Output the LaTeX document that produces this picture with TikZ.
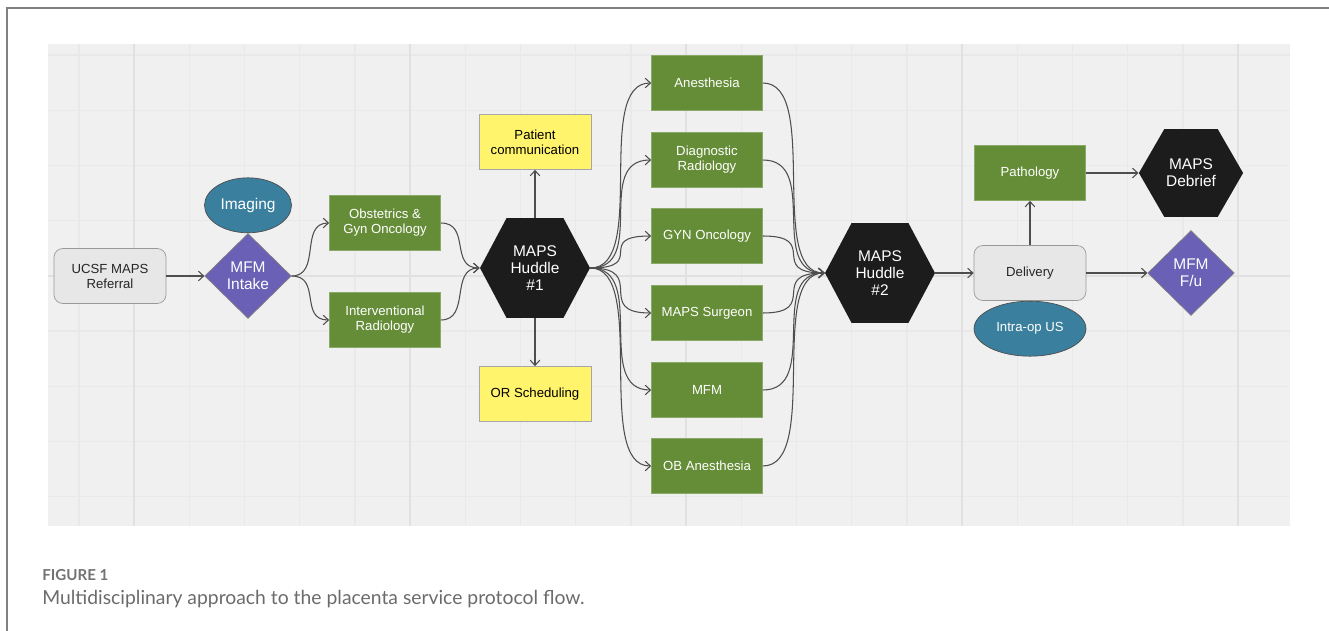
\documentclass[tikz,border=0pt]{standalone}
\usepackage{fontspec}
\setmainfont{Liberation Sans}
\newfontfamily\capfont{Lato}
\usetikzlibrary{positioning, shapes.geometric, shapes.symbols, arrows.meta}

\definecolor{panelgray}{RGB}{240,240,240}
\definecolor{gridgray}{RGB}{233,233,233}
\definecolor{gridmajor}{RGB}{225,225,225}
\definecolor{teamgreen}{RGB}{101,141,55}
\definecolor{intakeviolet}{RGB}{106,96,181}
\definecolor{scanteal}{RGB}{58,128,158}
\definecolor{huddleblack}{RGB}{28,28,28}
\definecolor{noteyellow}{RGB}{255,244,107}
\definecolor{stepgray}{RGB}{231,231,231}
\definecolor{linkgray}{RGB}{78,78,78}

\begin{document}
\begin{tikzpicture}[x=0.02cm, y=-0.02cm,
					every node/.style={font=\fontsize{7.5}{8.5}\selectfont, align=center},
					team/.style={rectangle, fill=teamgreen, draw=teamgreen!75!white, text=white, minimum width=2.22cm, minimum height=1.1cm, inner sep=1pt},
					note/.style={rectangle, fill=noteyellow, draw=gray!70, minimum width=2.24cm, minimum height=1.1cm, inner sep=1pt},
					stepbox/.style={rectangle, rounded corners=5pt, fill=stepgray, draw=gray!80, text=black!85, minimum width=2.24cm, minimum height=1.1cm, inner sep=1pt},
					huddle/.style={signal, signal to=east and west, signal pointer angle=124, fill=huddleblack, text=white, minimum width=2.2cm, minimum height=2cm, inner sep=1pt, font=\fontsize{8.8}{9.6}\selectfont},
					decision/.style={diamond, aspect=1, fill=intakeviolet, draw=gray, text=white, inner sep=0pt, minimum width=1.73cm, minimum height=1.7cm, font=\fontsize{8.8}{9.8}\selectfont},
					scan/.style={ellipse, fill=scanteal, draw=gray!60!black, text=white, inner sep=1pt},
					flow/.style={draw=linkgray, line width=0.6pt, -{Straight Barb[length=3pt,width=5.5pt]}},
					gridline/.style={gridgray, line width=0.6pt}]
	\useasboundingbox (0,0) rectangle (1329,631);
	\draw[gray, line width=1pt] (1329,8) -- (7,8) -- (7,631);

	% canvas with its grid
	\fill[panelgray] (48,44) rectangle (1290,526);
	\foreach \i in {0,...,21}
		\draw[gridline] ({79+55.2*\i},44) -- ({79+55.2*\i},526);
	\foreach \j in {0,...,8}
		\draw[gridline] (48,{55+55.2*\j}) -- (1290,{55+55.2*\j});
	\foreach \gx in {134,410,686,962,1238}
		\draw[gridmajor, line width=0.9pt] (\gx,44) -- (\gx,526);
	\draw[gridmajor, line width=0.9pt] (48,276) -- (1290,276);

	\node[stepbox] (referral) at (110,276) {UCSF MAPS\\Referral};
	\node[decision] (intake) at (248,276) {MFM\\Intake};
	\node[scan, minimum width=1.74cm, minimum height=1.1cm, above=0pt of intake, font=\fontsize{8.8}{10}\selectfont] (imaging) {Imaging};
	\node[team] (obgyn) at (385,223) {Obstetrics \&\\Gyn Oncology};
	\node[team] (ir) at (385,320) {Interventional\\Radiology};

	\node[huddle] (hud1) at (535,268) {MAPS\\Huddle\\\#1};
	\node[note] (patcomm) at (535,142) {Patient\\communication};
	\node[note] (orsched) at (535,394) {OR Scheduling};

	\foreach \name/\yy/\label in {anes/83/Anesthesia, diag/160/{Diagnostic\\Radiology}, gyno/236/GYN Oncology, surg/313/MAPS Surgeon, mfm/390/MFM, obanes/466/OB Anesthesia}
		\node[team] (\name) at (707,\yy) {\label};

	\node[huddle] (hud2) at (880,273) {MAPS\\Huddle\\\#2};
	\node[stepbox] (delivery) at (1030,273) {Delivery};
	\node[scan, minimum width=2.24cm, minimum height=1.1cm, below=0pt of delivery] (introp) {Intra-op US};
	\node[team] (patho) at (1030,173) {Pathology};
	\node[huddle, minimum width=2.02cm, minimum height=1.76cm, signal pointer angle=120] (debrief) at (1191,173) {MAPS\\Debrief};
	\node[decision] (mfmfu) at (1191,273) {MFM\\F/u};

	\draw[flow] (referral.east) -- (intake.west);
	\draw[flow] (intake.east) .. controls +(30,0) and +(-30,0) .. (obgyn.west);
	\draw[flow] (intake.east) .. controls +(30,0) and +(-30,0) .. (ir.west);
	\draw[flow] (obgyn.east) .. controls +(30,0) and +(-30,0) .. (hud1.west);
	\draw[flow] (ir.east) .. controls +(30,0) and +(-30,0) .. (hud1.west);
	\draw[flow] (hud1.north) -- (patcomm.south);
	\draw[flow] (hud1.south) -- (orsched.north);
	\foreach \name in {anes,diag,gyno,surg,mfm,obanes} {
		\draw[flow] (hud1.east) .. controls +(58,0) and +(-58,0) .. (\name.west);
		\draw[flow] (\name.east) .. controls +(58,0) and +(-58,0) .. (hud2.west);
	}
	\draw[flow] (hud2.east) -- (delivery.west);
	\draw[flow] (delivery.north) -- (patho.south);
	\draw[flow] (patho.east) -- (debrief.west);
	\draw[flow] (delivery.east) -- (mfmfu.west);

	\node[anchor=base west, inner sep=0pt, text=black!55, font=\fontsize{8.6}{10}\selectfont\capfont\bfseries] (figlabel) at (42,580) {FIGURE 1};
	\node[anchor=base west, inner sep=0pt, text=black!58, font=\fontsize{11}{13}\selectfont\capfont] (figcaption) at (42,604) {Multidisciplinary approach to the placenta service protocol flow.};
\end{tikzpicture}
\end{document}
